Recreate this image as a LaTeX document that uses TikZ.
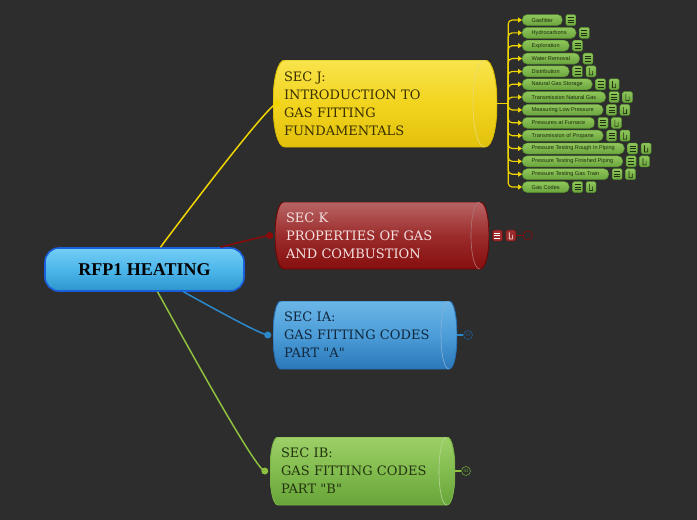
\documentclass[tikz,border=0pt]{standalone}
\usepackage{fontspec}
\newfontfamily\secfont{DejaVu Serif}
\newfontfamily\rootfont{Liberation Serif}
\newfontfamily\leaffont{Liberation Sans}
\usetikzlibrary{arrows.meta, positioning}

\definecolor{bgdark}{HTML}{2D2D2D}
\definecolor{rootTop}{HTML}{74CEF5}
\definecolor{rootMid}{HTML}{4DB6EA}
\definecolor{rootBot}{HTML}{2C95CC}
\definecolor{rootEdge}{HTML}{1B5EDC}
\definecolor{jLine}{HTML}{F0D500}
\definecolor{jTop}{HTML}{F8E44C}
\definecolor{jMid}{HTML}{F2D41E}
\definecolor{jBot}{HTML}{E2C10C}
\definecolor{jEdge}{HTML}{D9BC00}
\definecolor{jText}{HTML}{3A3000}
\definecolor{kLine}{HTML}{8A0A0A}
\definecolor{kTop}{HTML}{B86464}
\definecolor{kMid}{HTML}{9C2C2C}
\definecolor{kBot}{HTML}{860E0E}
\definecolor{kEdge}{HTML}{6E0606}
\definecolor{kText}{HTML}{F3E1E1}
\definecolor{iaLine}{HTML}{2B88CB}
\definecolor{iaTop}{HTML}{6BB6E8}
\definecolor{iaMid}{HTML}{4C9DD8}
\definecolor{iaBot}{HTML}{2B78BA}
\definecolor{iaEdge}{HTML}{2670B5}
\definecolor{iaText}{HTML}{12283D}
\definecolor{ibLine}{HTML}{8DC03F}
\definecolor{ibTop}{HTML}{9DD067}
\definecolor{ibMid}{HTML}{82BC4F}
\definecolor{ibBot}{HTML}{68A43A}
\definecolor{ibEdge}{HTML}{7AB446}
\definecolor{ibText}{HTML}{24340F}
\definecolor{leafTop}{HTML}{90C65C}
\definecolor{leafBot}{HTML}{6AA53D}
\definecolor{leafEdge}{HTML}{4E8A2A}
\definecolor{leafText}{HTML}{1E2E0E}

\tikzset{
  cylbox/.style n args={5}{rectangle, inner xsep=11pt, inner ysep=0pt, align=left,
    font=\secfont\fontsize{13}{18}\selectfont,
    path picture={
      \pgfmathsetmacro\rx{#5}
      \coordinate (pp-nw) at (path picture bounding box.north west);
      \coordinate (pp-ne) at (path picture bounding box.north east);
      \coordinate (pp-sw) at (path picture bounding box.south west);
      \coordinate (pp-se) at (path picture bounding box.south east);
      \shade[top color=#1, bottom color=#3, middle color=#2, draw=#4, line width=0.9pt]
        ([xshift=\rx*1pt]pp-nw) -- ([xshift=-\rx*1pt]pp-ne)
        .. controls ([xshift=\rx*0.333pt]pp-ne) and ([xshift=\rx*0.333pt]pp-se) .. ([xshift=-\rx*1pt]pp-se)
        -- ([xshift=\rx*1pt]pp-sw)
        .. controls ([xshift=-\rx*0.333pt]pp-sw) and ([xshift=-\rx*0.333pt]pp-nw) .. cycle;
      \draw[#4!55!white, line width=0.6pt] ([xshift=-\rx*1pt]pp-ne)
        .. controls ([xshift=-\rx*2.333pt]pp-ne) and ([xshift=-\rx*2.333pt]pp-se) .. ([xshift=-\rx*1pt]pp-se);
    }},
  rootbox/.style={rounded corners=14pt, minimum width=199pt, minimum height=43pt,
    draw=rootEdge, line width=1.6pt, top color=rootTop, bottom color=rootBot, middle color=rootMid,
    font=\rootfont\bfseries\fontsize{18}{18}\selectfont, text=black},
  leaf/.style={rounded corners=5pt, minimum height=11pt, inner xsep=9.5pt, inner ysep=0pt,
    top color=leafTop, bottom color=leafBot, draw=leafEdge, line width=0.4pt,
    font=\leaffont\fontsize{5.6}{6}\selectfont, text=leafText},
  iconbox/.style={rectangle, rounded corners=1.5pt, minimum width=10pt, minimum height=11pt,
    inner sep=0pt, line width=0.4pt},
  notesicon/.style={path picture={
      \foreach \dy in {-2.6,0,2.6}
        \draw[#1, line width=0.7pt] ([xshift=-3pt,yshift=\dy pt]path picture bounding box.center) -- ++(6pt,0);
    }},
  linkicon/.style={path picture={
      \draw[#1, line width=0.6pt] ([xshift=-1.6pt,yshift=3.2pt]path picture bounding box.center) -- ++(0,-5.2pt)
        arc[start angle=180, end angle=360, radius=1.6pt] -- ++(0,2.6pt);
    }},
  dot/.style={circle, inner sep=0pt, minimum size=7pt},
  morebox/.style={circle, draw, line width=0.6pt, minimum size=9pt, inner sep=0pt,
    font=\leaffont\fontsize{4.5}{4.5}\selectfont},
  mainline/.style={line width=1.5pt},
  jbranch/.style={draw=jLine, line width=1.2pt, rounded corners=4pt, -{Triangle[length=4pt,width=5pt]}}
}

\begin{document}
\begin{tikzpicture}[x=1pt, y=1pt]

  \fill[bgdark] (0,0) rectangle (697,-520);
  \useasboundingbox (0,0) rectangle (697,-520);

  % central topic
  \node (root) [rootbox] at (144.5,-269.5) {RFP1 HEATING};

  % sections
  \node (secJ) [cylbox={jTop}{jMid}{jBot}{jEdge}{12}, text=jText, minimum width=224pt, minimum height=87pt, text width=202pt]
    at (385,-103.5) {SEC J:\\INTRODUCTION TO\\GAS FITTING\\FUNDAMENTALS};
  \node (secK) [cylbox={kTop}{kMid}{kBot}{kEdge}{9}, text=kText, minimum width=214pt, minimum height=67pt, text width=192pt]
    at (382,-235.5) {SEC K\\PROPERTIES OF GAS\\AND COMBUSTION};
  \node (secIA) [cylbox={iaTop}{iaMid}{iaBot}{iaEdge}{8}, text=iaText, minimum width=184pt, minimum height=68pt, text width=162pt]
    at (365,-335) {SEC IA:\\GAS FITTING CODES\\PART "A"};
  \node (secIB) [cylbox={ibTop}{ibMid}{ibBot}{ibEdge}{8}, text=ibText, minimum width=185pt, minimum height=68pt, text width=163pt]
    at (362.5,-471) {SEC IB:\\GAS FITTING CODES\\PART "B"};

  % branches from the root
  \draw[mainline, jLine] ([xshift=16pt]root.north) to[out=54, in=180, looseness=0.12] ([xshift=4pt]secJ.west);
  \draw[mainline, kLine] ([xshift=76pt]root.north) to[out=14, in=180, looseness=0.2] ([xshift=-5pt]secK.west);
  \draw[mainline, iaLine] ([xshift=39pt]root.south) to[out=-28, in=180, looseness=0.2] ([xshift=-5pt]secIA.west);
  \draw[mainline, ibLine] ([xshift=13pt]root.south) to[out=-59, in=180, looseness=0.12] ([xshift=-5pt]secIB.west);
  \node (dotJ) [dot, fill=jLine] at ([xshift=4pt]secJ.west) {};
  \node (dotK) [dot, fill=kLine] at ([xshift=-5pt]secK.west) {};
  \node (dotIA) [dot, fill=iaLine] at ([xshift=-5pt]secIA.west) {};
  \node (dotIB) [dot, fill=ibLine] at ([xshift=-5pt]secIB.west) {};

  % subtopics of sec J
  \coordinate (jfork) at ([xshift=11pt]secJ.east);
  \draw[jLine, line width=1.2pt] (secJ.east) -- (jfork);
  \foreach \i/\name in {1/Gasfitter, 2/Hydrocarbons, 3/Exploration, 4/Water Removal,
      5/Distribution, 6/Natural Gas Storage, 7/Transmission Natural Gas,
      8/Measuring Low Pressure, 9/Pressures at Furnace, 10/Transmission of Propane,
      11/Pressure Testing Rough In Piping, 12/Pressure Testing Finished Piping,
      13/Pressure Testing Gas Train, 14/Gas Codes} {
    \pgfmathsetmacro\ly{-20-12.85*(\i-1)}
    \node (leaf\i) [leaf, anchor=west] at (522,\ly) {\name};
    \node (notes\i) [iconbox, top color=leafTop, bottom color=leafBot, draw=leafEdge,
      notesicon=leafText, right=3pt of leaf\i] {};
    \ifnum\i>4
      \node (link\i) [iconbox, top color=leafTop, bottom color=leafBot, draw=leafEdge,
        linkicon=leafText, right=3pt of notes\i] {};
    \fi
    \draw[jbranch] (jfork) |- (leaf\i.west);
  }

  % sec K extras
  \node (notesK) [iconbox, fill=kMid, draw=kEdge, notesicon=white, right=3pt of secK] {};
  \node (linkK) [iconbox, fill=kMid, draw=kEdge, linkicon=white, right=3pt of notesK] {};
  \node (moreK) [morebox, draw=kLine, right=7pt of linkK] {};
  \draw[kLine, line width=1.2pt] (linkK) -- (moreK);

  % collapsed counts
  \node (moreIA) [morebox, draw=iaEdge!80!black, text=iaEdge!80!black, right=6pt of secIA] {15};
  \draw[iaLine, line width=1.2pt] (secIA.east) -- (moreIA);
  \node (moreIB) [morebox, draw=ibBot, text=ibBot, right=6pt of secIB] {41};
  \draw[ibLine, line width=1.2pt] (secIB.east) -- (moreIB);

\end{tikzpicture}
\end{document}
